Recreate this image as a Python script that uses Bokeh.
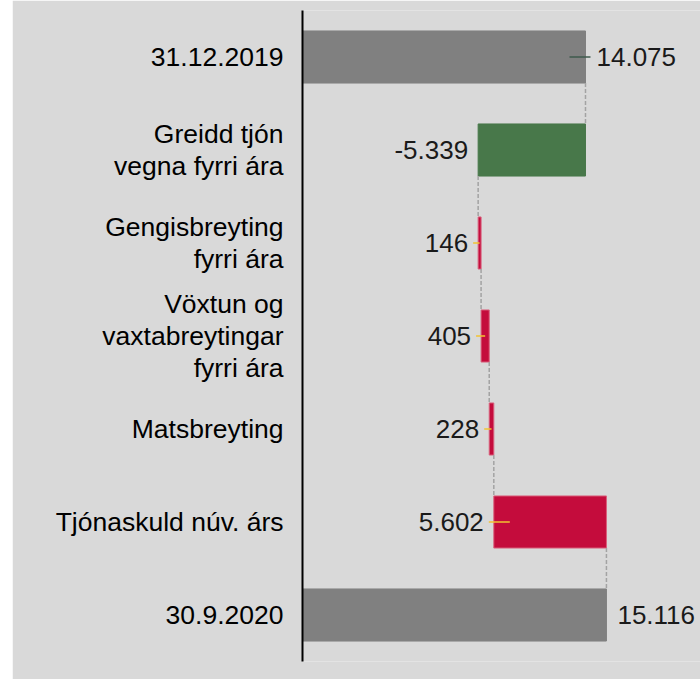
from bokeh.plotting import figure
from bokeh.models import Range1d, FixedTicker, ColumnDataSource, Spacer
from bokeh.layouts import row
from bokeh.core.properties import value
from bokeh.embed import file_html
from bokeh.resources import INLINE

# ---- data ----
categories = ["31.12.2019", "Greidd tjón\nvegna fyrri ára", "Gengisbreyting\nfyrri ára",
              "Vöxtun og\nvaxtabreytingar\nfyrri ára", "Matsbreyting",
              "Tjónaskuld núv. árs", "30.9.2020"]
values = [14075, -5339, 146, 405, 228, 5602, 15116]
is_total = [True, False, False, False, False, False, True]

# ---- style ----
FONT = "Liberation Sans"
BG = "#d9d9d9"
C_TOTAL = "#808080"
C_NEG = "#48784a"
C_POS = "#c40c3c"
FRAME_W, FRAME_H = 398, 651
XMAX = 19795
BAR_H = 0.56
upp = XMAX / FRAME_W  # data units per pixel

# waterfall geometry
left, right, colors, lines = [], [], [], []
running = 0
for v, tot in zip(values, is_total):
    if tot:
        a, b = 0, v
        running = v
        colors.append(C_TOTAL); lines.append(C_TOTAL)
    else:
        a, b = running, running + v
        running = running + v
        colors.append(C_POS if v > 0 else C_NEG)
        lines.append("#d9607c" if v > 0 else C_NEG)
    left.append(min(a, b)); right.append(max(a, b))
ypos = list(range(len(values)))

p = figure(width=290 + FRAME_W, height=679, output_backend="svg", toolbar_location=None,
           x_range=Range1d(0, XMAX), y_range=Range1d(len(values) - 0.5, -0.5),
           min_border_left=290, min_border_right=0, min_border_top=10, min_border_bottom=18,
           frame_width=FRAME_W, frame_height=FRAME_H)
p.background_fill_color = BG
p.border_fill_color = BG
p.outline_line_color = None
p.grid.visible = False
p.xaxis.visible = False

ax = p.yaxis[0]
ax.ticker = FixedTicker(ticks=ypos)
ax.major_label_overrides = {i: c for i, c in zip(ypos, categories)}
ax.major_tick_line_color = None
ax.minor_tick_line_color = None
ax.axis_line_color = "black"
ax.axis_line_width = 2
ax.major_label_text_font = FONT
ax.major_label_text_font_size = "26.5px"
ax.major_label_text_line_height = 1.06
ax.major_label_text_color = "#000000"
ax.major_label_standoff = 13

src = ColumnDataSource(dict(y=ypos, left=left, right=right, color=colors, line=lines))
p.hbar(y="y", left="left", right="right", height=BAR_H, fill_color="color",
       line_color="line", line_width=1, source=src)

# connectors
cx, cy0, cy1 = [], [], []
running = 0
for i, (v, tot) in enumerate(zip(values, is_total)):
    running = v if tot else running + v
    if i < len(values) - 1:
        cx.append(running); cy0.append(i + BAR_H / 2); cy1.append(i + 1 - BAR_H / 2)
p.segment(x0=cx, y0=cy0, x1=cx, y1=cy1, line_color="#a3a3a3", line_width=1.5, line_dash="4 2")

# labels
def fmt(v):
    return f"{v:,}".replace(",", ".")

tx, ty, tt, talign, toff = [], [], [], [], []
lx0, lx1, ly, lc = [], [], [], []
for i, (v, tot) in enumerate(zip(values, is_total)):
    width_px = (right[i] - left[i]) / upp
    inside = min(16, width_px / 2)
    if tot:
        tx.append(right[i]); talign.append("left"); toff.append(11)
        if i == 0:
            lx0.append(right[i] - inside * upp); lx1.append(right[i] + 5 * upp)
            ly.append(i); lc.append("#3e5a4c")
    else:
        tx.append(left[i]); talign.append("right"); toff.append(-10)
        if v > 0:
            lx0.append(left[i] - 5 * upp); lx1.append(left[i] + inside * upp)
            ly.append(i); lc.append("#f2c230")
    ty.append(i); tt.append(fmt(v))

p.segment(x0=lx0, y0=ly, x1=lx1, y1=ly, line_color=lc, line_width=1.5)
lsrc = ColumnDataSource(dict(x=tx, y=ty, t=tt, a=talign, o=toff))
p.text(x="x", y="y", text="t", text_align="a", x_offset="o", text_baseline="middle",
       text_font=value(FONT), text_font_size="26px", text_color="#1a1a1a", source=lsrc)

layout = row(Spacer(width=12, height=679), p)
open("out.html", "w").write(file_html(layout, INLINE))
